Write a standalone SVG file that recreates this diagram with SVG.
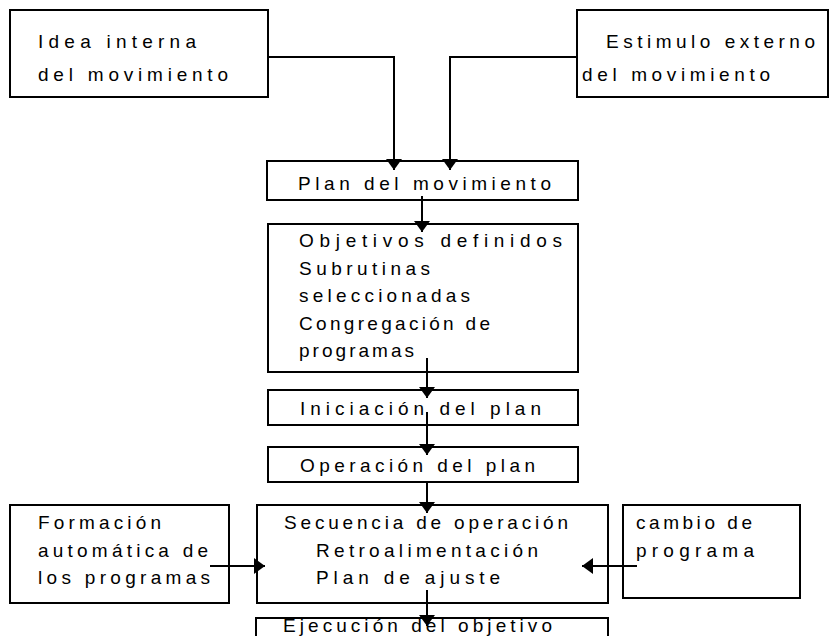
<svg xmlns="http://www.w3.org/2000/svg" width="835" height="636" viewBox="0 0 835 636">
<style>
  .box{fill:#fff;stroke:#000;stroke-width:2}
  .t{font-family:"Liberation Sans",Arial,sans-serif;font-size:19px;fill:#000}
  .c{fill:none;stroke:#000;stroke-width:2}
</style>
<defs>
  <marker id="ah" markerUnits="userSpaceOnUse" markerWidth="12" markerHeight="16" refX="11" refY="8" orient="auto">
    <path d="M0,0 L11,8 L0,16 Z" fill="#000"/>
  </marker>
</defs>
<rect width="835" height="636" fill="#fff"/>
<g id="idea">
  <rect class="box" x="10" y="10" width="258" height="87"/>
  <text class="t" x="38" y="48" textLength="158" lengthAdjust="spacing">Idea interna</text>
  <text class="t" x="38" y="81" textLength="190" lengthAdjust="spacing">del movimiento</text>
</g>
<g id="estimulo">
  <rect class="box" x="577" y="10" width="251" height="87"/>
  <text class="t" x="606" y="48" textLength="209" lengthAdjust="spacing">Estimulo externo</text>
  <text class="t" x="582" y="81" textLength="188" lengthAdjust="spacing">del movimiento</text>
</g>
<g id="plan">
  <rect class="box" x="267" y="161" width="311" height="39"/>
  <text class="t" x="298" y="190" textLength="253" lengthAdjust="spacing">Plan del movimiento</text>
</g>
<g id="objetivos">
  <rect class="box" x="268" y="224" width="310" height="148"/>
  <text class="t" x="299" y="247" textLength="263" lengthAdjust="spacing">Objetivos definidos</text>
  <text class="t" x="299" y="275" textLength="131" lengthAdjust="spacing">Subrutinas</text>
  <text class="t" x="299" y="302" textLength="171" lengthAdjust="spacing">seleccionadas</text>
  <text class="t" x="299" y="330" textLength="191" lengthAdjust="spacing">Congregación de</text>
  <text class="t" x="299" y="357" textLength="115" lengthAdjust="spacing">programas</text>
</g>
<g id="iniciacion">
  <rect class="box" x="268" y="390" width="310" height="35"/>
  <text class="t" x="300" y="415" textLength="241" lengthAdjust="spacing">Iniciación del plan</text>
</g>
<g id="operacion">
  <rect class="box" x="268" y="447" width="310" height="35"/>
  <text class="t" x="300" y="472" textLength="235" lengthAdjust="spacing">Operación del plan</text>
</g>
<g id="secuencia">
  <rect class="box" x="257" y="505" width="351" height="98"/>
  <text class="t" x="284" y="529" textLength="284" lengthAdjust="spacing">Secuencia de operación</text>
  <text class="t" x="316" y="557" textLength="222" lengthAdjust="spacing">Retroalimentación</text>
  <text class="t" x="316" y="584" textLength="184" lengthAdjust="spacing">Plan de ajuste</text>
</g>
<g id="ejecucion">
  <rect class="box" x="256" y="618" width="352" height="30"/>
  <text class="t" x="283" y="632" font-size="17" textLength="269" lengthAdjust="spacing">Ejecución del objetivo</text>
</g>
<g id="formacion">
  <rect class="box" x="10" y="505" width="219" height="98"/>
  <text class="t" x="38" y="529" textLength="123" lengthAdjust="spacing">Formación</text>
  <text class="t" x="38" y="557" textLength="170" lengthAdjust="spacing">automática de</text>
  <text class="t" x="38" y="584" textLength="172" lengthAdjust="spacing">los programas</text>
</g>
<g id="cambio">
  <rect class="box" x="623" y="505" width="177" height="93"/>
  <text class="t" x="636" y="529" textLength="116" lengthAdjust="spacing">cambio de</text>
  <text class="t" x="636" y="557" textLength="118" lengthAdjust="spacing">programa</text>
</g>
<g id="connectors">
  <path class="c" d="M268,57 H394 V170" marker-end="url(#ah)"/>
  <path class="c" d="M577,57 H450 V170" marker-end="url(#ah)"/>
  <path class="c" d="M422,196 V232" marker-end="url(#ah)"/>
  <path class="c" d="M427,358 V398" marker-end="url(#ah)"/>
  <path class="c" d="M427,412 V455" marker-end="url(#ah)"/>
  <path class="c" d="M427,482 V513" marker-end="url(#ah)"/>
  <path class="c" d="M427,590 V626" marker-end="url(#ah)"/>
  <path class="c" d="M210,566 H265" marker-end="url(#ah)"/>
  <path class="c" d="M637,566 H582" marker-end="url(#ah)"/>
</g>
</svg>
